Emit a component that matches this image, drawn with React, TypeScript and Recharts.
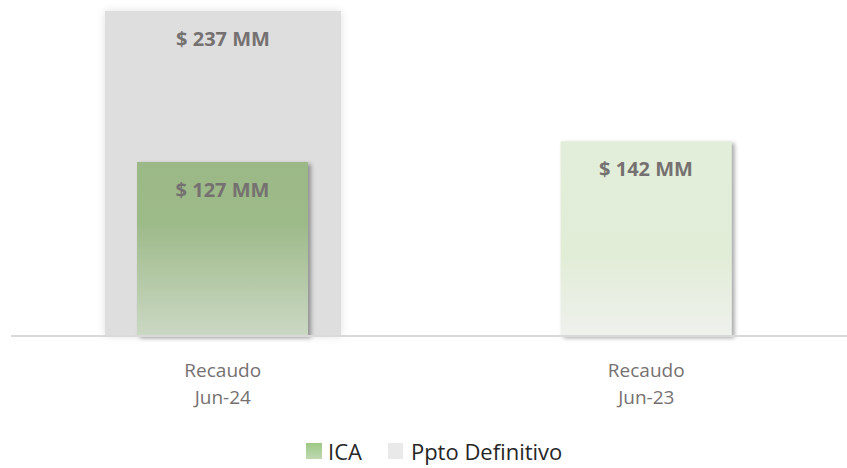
import { BarChart, Bar, XAxis, YAxis, Cell, LabelList, Legend } from 'recharts';

const categories = ['Recaudo|Jun-24', 'Recaudo|Jun-23'];
const icaValues = [127, 142];
const pptoValues: Array<number | null> = [237, null];

const data = categories.map((name, i) => ({
  name,
  ica: icaValues[i],
  ppto: pptoValues[i],
}));

const FONT = '"Open Sans", sans-serif';
const LABEL_COLOR = '#767171';

const BarTick = (props: any) => {
  const { x, y, payload } = props;
  const [line1, line2] = String(payload.value).split('|');
  return (
    <text x={x} y={y} textAnchor="middle" fill={LABEL_COLOR} fontFamily={FONT} fontSize={19}>
      <tspan x={x} dy={39}>{line1}</tspan>
      <tspan x={x} dy={27}>{line2}</tspan>
    </text>
  );
};

const ValueLabel = (props: any) => {
  const { x, y, width, value } = props;
  if (value == null) return null;
  return (
    <text
      x={x + width / 2}
      y={y + 35}
      textAnchor="middle"
      fill={LABEL_COLOR}
      fontFamily={FONT}
      fontWeight={700}
      fontSize={20}
    >
      {`$ ${value} MM`}
    </text>
  );
};

const LegendContent = () => (
  <div
    style={{
      display: 'flex',
      alignItems: 'center',
      marginTop: 30,
      height: 26,
      paddingLeft: 306,
      fontFamily: FONT,
      fontSize: 22,
      color: '#262626',
    }}
  >
    <span
      style={{
        width: 16,
        height: 16,
        background: 'linear-gradient(#9dc987, #bfd8b0)',
        marginRight: 6,
      }}
    />
    <span style={{ marginRight: 26 }}>ICA</span>
    <span style={{ width: 15, height: 16, background: '#e9e9e9', marginRight: 8 }} />
    <span>Ppto Definitivo</span>
  </div>
);

export default function App() {
  return (
    <div style={{ position: 'absolute', left: 0, top: 0, width: 847, height: 468, overflow: 'hidden', background: '#fff' }}>
      <BarChart
        width={870}
        height={468}
        data={data}
        margin={{ top: 7, right: 12, left: 11, bottom: 0 }}
      >
        <defs>
          <linearGradient id="gradIca1" x1="0" y1="0" x2="0" y2="1">
            <stop offset="0%" stopColor="#9bb986" />
            <stop offset="35%" stopColor="#9dba89" />
            <stop offset="100%" stopColor="#cbd8c4" />
          </linearGradient>
          <linearGradient id="gradIca2" x1="0" y1="0" x2="0" y2="1">
            <stop offset="0%" stopColor="#e2eed9" />
            <stop offset="60%" stopColor="#e2edd8" />
            <stop offset="100%" stopColor="#eff1ed" />
          </linearGradient>
          <filter id="shadowIca" x="-10%" y="-10%" width="130%" height="130%">
            <feDropShadow dx="3" dy="2" stdDeviation="2" floodColor="#000" floodOpacity="0.35" />
          </filter>
          <filter id="shadowPpto" x="-10%" y="-10%" width="120%" height="120%">
            <feDropShadow dx="0" dy="0" stdDeviation="4" floodColor="#000" floodOpacity="0.12" />
          </filter>
        </defs>
        <XAxis
          xAxisId="main"
          dataKey="name"
          axisLine={{ stroke: '#d9d9d9', strokeWidth: 2 }}
          tickLine={false}
          tickSize={0}
          height={72}
          interval={0}
          tick={<BarTick />}
        />
        <XAxis xAxisId="back" dataKey="name" hide height={0} />
        <YAxis hide domain={[0, 240]} />
        <Legend verticalAlign="bottom" height={60} content={<LegendContent />} wrapperStyle={{ left: 0, width: 870 }} />
        <Bar
          xAxisId="back"
          dataKey="ppto"
          name="Ppto Definitivo"
          barSize={236}
          fill="#dedede"
          filter="url(#shadowPpto)"
          isAnimationActive={false}
        >
          <LabelList dataKey="ppto" content={<ValueLabel />} />
        </Bar>
        <Bar
          xAxisId="main"
          dataKey="ica"
          name="ICA"
          barSize={171}
          filter="url(#shadowIca)"
          isAnimationActive={false}
        >
          <Cell fill="url(#gradIca1)" />
          <Cell fill="url(#gradIca2)" />
          <LabelList dataKey="ica" content={<ValueLabel />} />
        </Bar>
      </BarChart>
    </div>
  );
}
